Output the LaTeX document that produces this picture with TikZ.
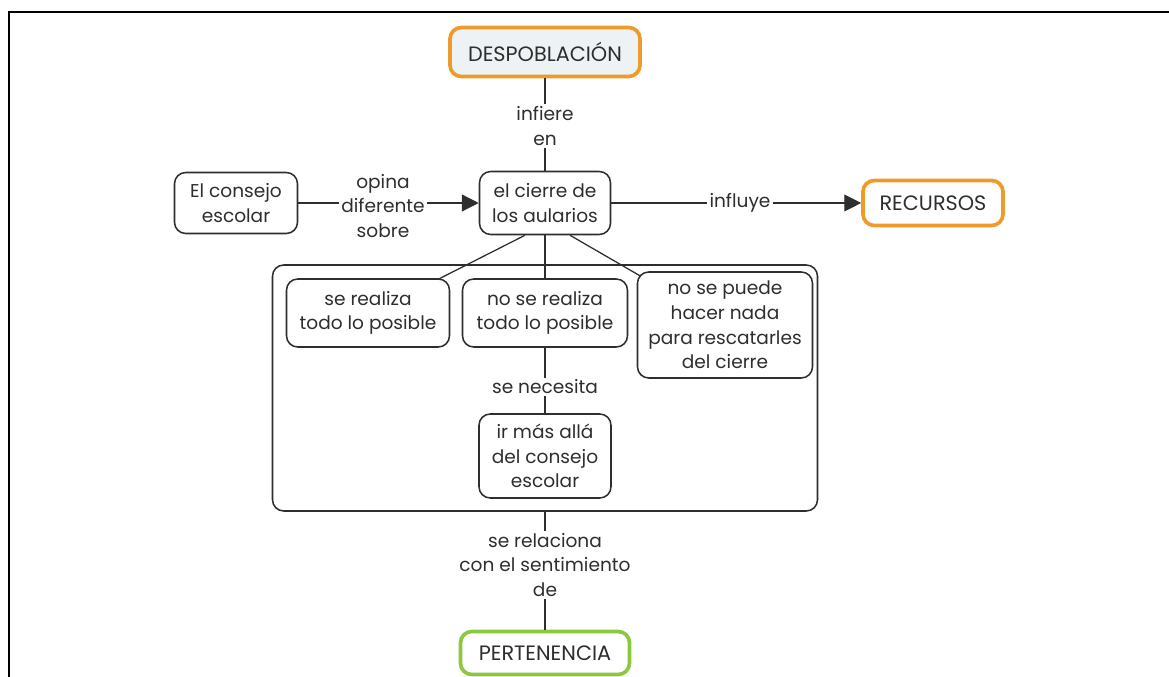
\documentclass[tikz,border=0pt]{standalone}
\usepackage{fontspec}
\setmainfont{Poppins}
\usetikzlibrary{arrows.meta, positioning}
\definecolor{corange}{HTML}{EE9B2B}
\definecolor{cgreen}{HTML}{8DC63F}
\definecolor{cink}{HTML}{2E2E2E}
\definecolor{cpale}{HTML}{EDF2F5}
\tikzset{
  every picture/.style={font=\fontsize{13.2}{17.5}\selectfont, line width=0.9pt},
  concept/.style={draw=cink, fill=white, text=cink, rounded corners=8pt, align=center, line width=1.1pt, inner sep=4pt},
  key/.style={concept, draw=#1, line width=2.6pt, font=\fontsize{14.8}{17.5}\selectfont},
  key/.default=corange,
  link/.style={text=cink, align=center, inner sep=1pt},
  arrow/.style={-{Triangle[length=12pt, width=12pt]}, draw=cink},
  line/.style={draw=cink},
}

\begin{document}
\begin{tikzpicture}[x=0.25mm, y=-0.25mm]
  \useasboundingbox (0,0) rectangle (1169,677);
  % page frame
  \draw[line width=1.8pt, black] (1169,12) -- (9,12) -- (9,677);

  % group of the three outcomes
  \node[concept, minimum width=13.625cm, minimum height=6.15cm] (grupo) at (545,388) {};

  \node[key, fill=cpale, minimum width=4.75cm, minimum height=1.225cm] (desp) at (545,52) {DESPOBLACIÓN};
  \node[link] (infiere) at (545,126) {infiere\\en};
  \node[concept, minimum width=3.275cm, minimum height=1.575cm] (cierre) at (545,203) {el cierre de\\los aularios};
  \node[concept, minimum width=3.075cm, minimum height=1.525cm] (consejo) at (236,203) {El consejo\\escolar};
  \node[link] (opina) at (383,206) {opina\\diferente\\sobre};
  \node[link] (influye) at (740,203) {influye};
  \node[key, minimum width=3.5cm, minimum height=1.125cm] (recursos) at (933,203) {RECURSOS};

  \node[concept, minimum width=4.075cm, minimum height=1.7cm] (realiza) at (368,313) {se realiza\\todo lo posible};
  \node[concept, minimum width=4.125cm, minimum height=1.7cm] (norealiza) at (545,313) {no se realiza\\todo lo posible};
  \node[concept, minimum width=4.375cm, minimum height=2.65cm] (nada) at (725,325) {no se puede\\hacer nada\\para rescatarles\\del cierre};
  \node[link] (necesita) at (545,387) {se necesita};
  \node[concept, minimum width=3.3cm, minimum height=2.1cm] (masalla) at (545,456) {ir más allá\\del consejo\\escolar};

  \node[link] (relac) at (545,565) {se relaciona\\con el sentimiento\\de};
  \node[key=cgreen, minimum width=4.225cm, minimum height=1.075cm] (perten) at (545,653) {PERTENENCIA};

  % links
  \draw[line] (desp) -- (infiere) -- (cierre);
  \draw[line] (consejo) -- (consejo.east -| opina.west);
  \draw[arrow] (opina.east |- cierre) -- (cierre);
  \draw[line] (cierre) -- (influye);
  \draw[arrow] (influye) -- (recursos);
  \draw[line] ([shift={(-20,0)}]cierre.south) -- ([shift={(-12,1)}]realiza.north east);
  \draw[line] (cierre) -- (norealiza);
  \draw[line] ([shift={(25,0)}]cierre.south) -- ([shift={(4,5)}]nada.north west);
  \draw[line] (norealiza) -- (necesita) -- (masalla);
  \draw[line] (grupo) -- (relac) -- (perten);
\end{tikzpicture}
\end{document}
